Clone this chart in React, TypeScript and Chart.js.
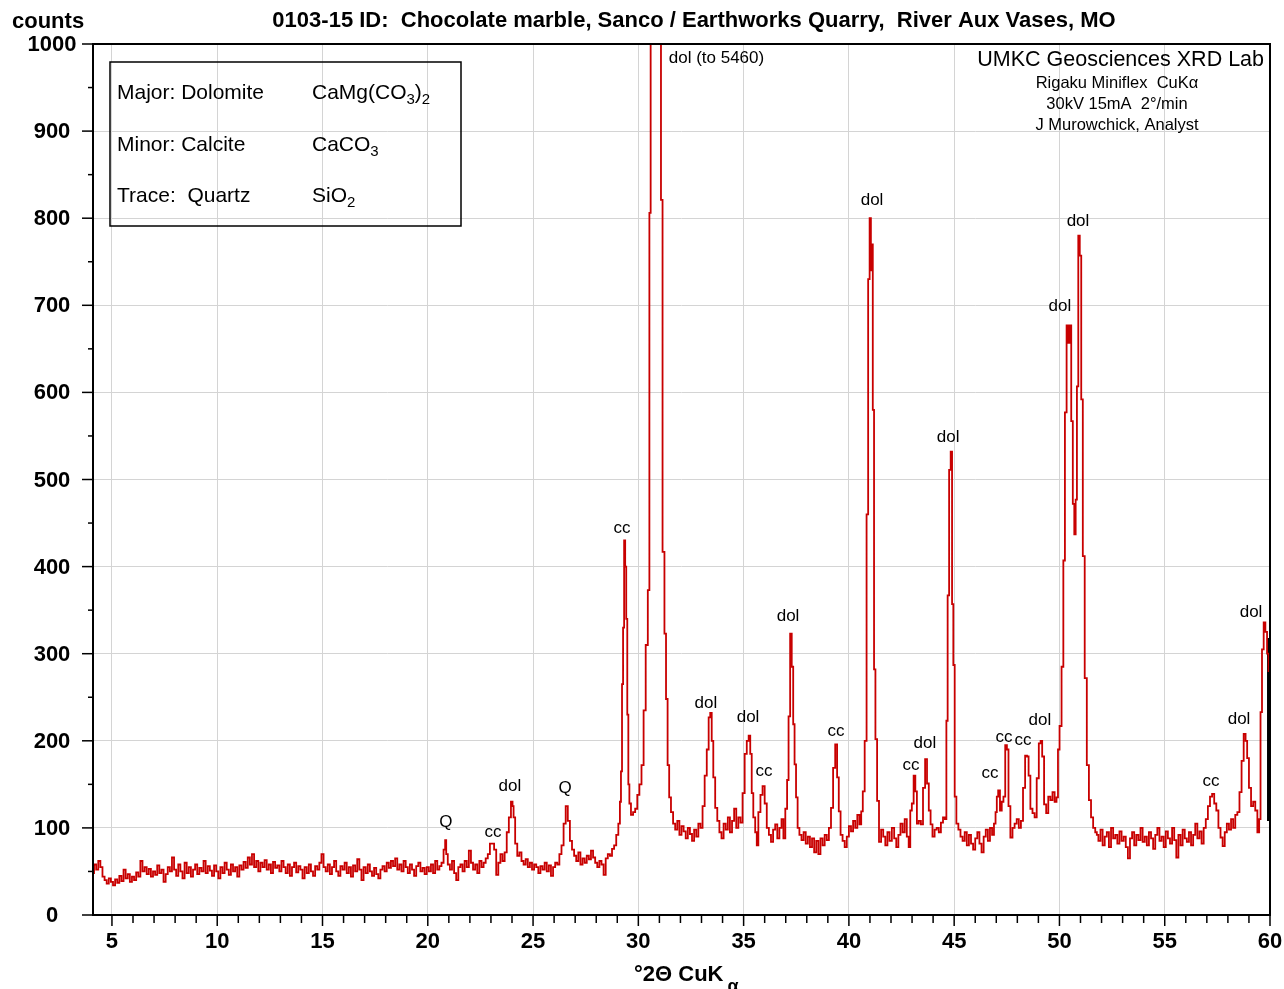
import { useEffect, useRef } from 'react';
import { Chart, registerables } from 'chart.js';

Chart.register(...registerables);

const FONT = '"Liberation Sans", Arial, Helvetica, sans-serif';

const chartTitle = '0103-15 ID:  Chocolate marble, Sanco / Earthworks Quarry,  River Aux Vases, MO';
const yAxisTitle = 'counts';
const xAxisTitle = '°2Θ CuK';
const xAxisTitleSub = 'α';
const labName = 'UMKC Geosciences XRD Lab';
const labNotes = ['Rigaku Miniflex  CuKα', '30kV 15mA  2°/min', 'J Murowchick, Analyst'];

const xMajorTicks = [5, 10, 15, 20, 25, 30, 35, 40, 45, 50, 55, 60];
const yMajorTicks = [0, 100, 200, 300, 400, 500, 600, 700, 800, 900, 1000];

// phase identification box: [role text, formula parts (text, isSubscript)]
const phaseRoles = ['Major: Dolomite', 'Minor: Calcite', 'Trace:  Quartz'];
const phaseFormulas: [string, boolean][][] = [
  [['CaMg(CO', false], ['3', true], [')', false], ['2', true]],
  [['CaCO', false], ['3', true]],
  [['SiO', false], ['2', true]],
];

// peak annotations
const peakLabelText = ['Q', 'cc', 'dol', 'Q', 'cc', 'dol (to 5460)', 'dol', 'dol', 'cc', 'dol', 'cc', 'dol', 'cc', 'dol', 'dol', 'cc', 'cc', 'cc', 'dol', 'dol', 'dol', 'cc', 'dol', 'dol'];
const peakLabelTheta = [20.86, 23.1, 23.9, 26.52, 29.22, 33.71, 33.21, 35.21, 35.97, 37.11, 39.39, 41.1, 42.95, 43.61, 44.71, 46.7, 47.37, 48.27, 49.07, 50.02, 50.88, 57.2, 58.53, 59.1];
const peakLabelCounts = [106, 95, 148, 146, 444, 983, 243, 227, 165, 343, 211, 820, 172, 197, 548, 163, 204, 200, 224, 699, 797, 154, 225, 348];

// scan: [°2θ, counts]
const scanLowAngle: [number, number][] = [
  [4.1, 48], [4.2, 58], [4.3, 52], [4.4, 62], [4.5, 55], [4.6, 44], [4.7, 40], [4.8, 36], [4.9, 42], [5.0, 38],
  [5.1, 34], [5.2, 41], [5.3, 37], [5.4, 45], [5.5, 39], [5.6, 52], [5.7, 42], [5.8, 47], [5.9, 38], [6.0, 44],
  [6.1, 40], [6.2, 49], [6.3, 44], [6.4, 62], [6.5, 50], [6.6, 55], [6.7, 47], [6.8, 53], [6.9, 44], [7.0, 50],
  [7.1, 46], [7.2, 57], [7.3, 48], [7.4, 52], [7.5, 38], [7.6, 47], [7.7, 55], [7.8, 50], [7.9, 66], [8.0, 52],
  [8.1, 45], [8.2, 58], [8.3, 50], [8.4, 42], [8.5, 60], [8.6, 48], [8.7, 55], [8.8, 44], [8.9, 52], [9.0, 58],
  [9.1, 47], [9.2, 54], [9.3, 50], [9.4, 62], [9.5, 48], [9.6, 56], [9.7, 51], [9.8, 45], [9.9, 57], [10.0, 50],
  [10.1, 42], [10.2, 55], [10.3, 48], [10.4, 60], [10.5, 52], [10.6, 46], [10.7, 58], [10.8, 50], [10.9, 55], [11.0, 44],
  [11.1, 57], [11.2, 52], [11.3, 61], [11.4, 54], [11.5, 66], [11.6, 58], [11.7, 70], [11.8, 55], [11.9, 62], [12.0, 50],
  [12.1, 60], [12.2, 55], [12.3, 63], [12.4, 52], [12.5, 58], [12.6, 48], [12.7, 61], [12.8, 54], [12.9, 57], [13.0, 50],
  [13.1, 62], [13.2, 55], [13.3, 48], [13.4, 58], [13.5, 45], [13.6, 55], [13.7, 60], [13.8, 49], [13.9, 56], [14.0, 52],
  [14.1, 42], [14.2, 55], [14.3, 48], [14.4, 58], [14.5, 50], [14.6, 45], [14.7, 56], [14.8, 52], [14.9, 60], [15.0, 70],
  [15.1, 55], [15.2, 50], [15.3, 58], [15.4, 47], [15.5, 55], [15.6, 62], [15.7, 50], [15.8, 45], [15.9, 56], [16.0, 52],
  [16.1, 60], [16.2, 48], [16.3, 55], [16.4, 44], [16.5, 57], [16.6, 50], [16.7, 64], [16.8, 52], [16.9, 40], [17.0, 55],
  [17.1, 48], [17.2, 58], [17.3, 50], [17.4, 45], [17.5, 54], [17.6, 47], [17.7, 42], [17.8, 52], [17.9, 56], [18.0, 50],
  [18.1, 60], [18.2, 54], [18.3, 62], [18.4, 56], [18.5, 65], [18.6, 52], [18.7, 58], [18.8, 50], [18.9, 62], [19.0, 55],
  [19.1, 48], [19.2, 58], [19.3, 52], [19.4, 45], [19.5, 56], [19.6, 60], [19.7, 50], [19.8, 54], [19.9, 47], [20.0, 55],
  [20.1, 50], [20.2, 58], [20.3, 48], [20.4, 62], [20.5, 52], [20.6, 56],
];

const scanQuartzRegion: [number, number][] = [
  [20.7, 60], [20.8, 75], [20.85, 86], [20.9, 70], [21.0, 58], [21.1, 52], [21.2, 62], [21.3, 48], [21.4, 40], [21.5, 55],
  [21.6, 58], [21.7, 50], [21.8, 62], [21.9, 55], [22.0, 74], [22.1, 60], [22.2, 52], [22.3, 58], [22.4, 48], [22.5, 62],
  [22.6, 55], [22.7, 60], [22.8, 65], [22.9, 70], [23.0, 82], [23.1, 82], [23.2, 75], [23.3, 46], [23.4, 60], [23.5, 70],
  [23.6, 62], [23.7, 72], [23.8, 95], [23.9, 112], [24.0, 130], [24.05, 125], [24.1, 112], [24.2, 82], [24.3, 68], [24.4, 72],
  [24.5, 62], [24.6, 58], [24.7, 64], [24.8, 55], [24.9, 60], [25.0, 52], [25.1, 58], [25.2, 55], [25.3, 48], [25.4, 56],
  [25.5, 52], [25.6, 60], [25.7, 50], [25.8, 57], [25.9, 45], [26.0, 55], [26.1, 60], [26.2, 58], [26.3, 70], [26.4, 80],
  [26.5, 105], [26.6, 125], [26.7, 108], [26.8, 85], [26.9, 75], [27.0, 68], [27.1, 62], [27.2, 72], [27.3, 58], [27.4, 65],
  [27.5, 60], [27.6, 68], [27.7, 64], [27.8, 74], [27.9, 66], [28.0, 60], [28.1, 55], [28.2, 62], [28.3, 58], [28.4, 46],
  [28.5, 65], [28.6, 70], [28.7, 68], [28.8, 76], [28.9, 80], [29.0, 92], [29.1, 105],
];

const scanMainPeaks: [number, number][] = [
  [29.15, 130], [29.2, 165], [29.25, 265], [29.3, 330], [29.35, 430], [29.4, 400], [29.45, 340], [29.5, 230], [29.55, 150], [29.6, 128],
  [29.7, 115], [29.8, 118], [29.9, 122], [30.0, 138], [30.1, 150], [30.2, 172], [30.3, 235], [30.4, 310], [30.5, 373], [30.55, 806],
  [30.62, 2800], [30.72, 5460], [30.85, 5000], [30.95, 3200], [31.05, 1400], [31.1, 821], [31.2, 417], [31.28, 323], [31.35, 248], [31.43, 172],
  [31.5, 135], [31.6, 118], [31.7, 105], [31.8, 98], [31.9, 108], [32.0, 92], [32.1, 102], [32.2, 96], [32.3, 88], [32.4, 100],
  [32.5, 93], [32.6, 85], [32.7, 98], [32.8, 90], [32.9, 105], [33.0, 100], [33.1, 125], [33.2, 160], [33.3, 190], [33.38, 227],
  [33.45, 232], [33.52, 200], [33.6, 158], [33.7, 123], [33.8, 108], [33.9, 95], [34.0, 88], [34.1, 105], [34.2, 98], [34.3, 112],
  [34.4, 95], [34.5, 108], [34.6, 122], [34.7, 100], [34.8, 112], [34.9, 106], [35.0, 140], [35.1, 185], [35.2, 200], [35.28, 206],
  [35.35, 185], [35.42, 140], [35.5, 112], [35.6, 95], [35.65, 80], [35.75, 118], [35.85, 138], [35.95, 148], [36.05, 128], [36.15, 100],
  [36.25, 92], [36.35, 84], [36.45, 98], [36.55, 104], [36.65, 88], [36.75, 100], [36.85, 110], [36.93, 88], [37.03, 122], [37.1, 155],
  [37.17, 228], [37.25, 323], [37.32, 285], [37.39, 219], [37.45, 173], [37.53, 135], [37.6, 100], [37.7, 92], [37.8, 86], [37.9, 95],
  [38.0, 82], [38.1, 90], [38.2, 78], [38.3, 88], [38.4, 72], [38.5, 85], [38.6, 70], [38.7, 88], [38.8, 80], [38.9, 92],
  [39.0, 86], [39.1, 100], [39.2, 123], [39.3, 169], [39.4, 196], [39.48, 158], [39.56, 119], [39.65, 92], [39.75, 85], [39.85, 78],
  [39.95, 90], [40.05, 102], [40.15, 96], [40.25, 108], [40.35, 100], [40.45, 115], [40.55, 104], [40.62, 119], [40.7, 142], [40.8, 200],
  [40.88, 460], [40.95, 730], [41.02, 800], [41.07, 740], [41.1, 770], [41.17, 580], [41.22, 282], [41.3, 202], [41.38, 131], [41.48, 84],
  [41.58, 98], [41.68, 90], [41.78, 80], [41.88, 95], [41.98, 85], [42.1, 100], [42.2, 88], [42.3, 78], [42.4, 92], [42.5, 105],
  [42.6, 95], [42.7, 110], [42.8, 90], [42.88, 78], [42.95, 120], [43.03, 128], [43.12, 160], [43.19, 142], [43.27, 105], [43.37, 108],
  [43.47, 104], [43.57, 146], [43.67, 179], [43.75, 151], [43.84, 120], [43.92, 104], [44.02, 90], [44.12, 98], [44.22, 100], [44.32, 95],
  [44.42, 106], [44.52, 112], [44.6, 110], [44.66, 223], [44.72, 367], [44.8, 511], [44.87, 532], [44.93, 357], [44.99, 287], [45.06, 136],
  [45.15, 105], [45.25, 98], [45.35, 90], [45.45, 85], [45.55, 95], [45.65, 80], [45.75, 92], [45.85, 82], [45.95, 75], [46.05, 88],
  [46.15, 95], [46.25, 82], [46.35, 72], [46.45, 90], [46.55, 98], [46.65, 85], [46.75, 100], [46.85, 92], [46.93, 105], [47.0, 118],
  [47.05, 136], [47.13, 143], [47.22, 120], [47.3, 130], [47.38, 136], [47.47, 195], [47.54, 190], [47.62, 125], [47.72, 89], [47.82, 100],
  [47.92, 105], [48.02, 110], [48.12, 100], [48.22, 108], [48.32, 146], [48.42, 183], [48.5, 182], [48.57, 160], [48.67, 122], [48.77, 117],
  [48.87, 112], [48.97, 157], [49.07, 197], [49.14, 200], [49.22, 182], [49.32, 127], [49.42, 117], [49.52, 136], [49.62, 132], [49.72, 141],
  [49.82, 130], [49.9, 135], [49.96, 190], [50.05, 217], [50.15, 285], [50.22, 407], [50.3, 577], [50.38, 677], [50.45, 657], [50.52, 677],
  [50.6, 567], [50.67, 472], [50.74, 437], [50.8, 477], [50.86, 607], [50.93, 780], [51.0, 757], [51.07, 592], [51.15, 412], [51.25, 272],
  [51.35, 172], [51.45, 132], [51.55, 112], [51.65, 100], [51.75, 95],
];

const scanHighAngle: [number, number][] = [
  [51.8, 92], [51.9, 85], [52.0, 98], [52.1, 80], [52.2, 90], [52.3, 95], [52.4, 78], [52.5, 100], [52.6, 88], [52.7, 92],
  [52.8, 82], [52.9, 96], [53.0, 85], [53.1, 90], [53.2, 78], [53.3, 65], [53.4, 88], [53.5, 95], [53.6, 80], [53.7, 92],
  [53.8, 86], [53.9, 100], [54.0, 84], [54.1, 90], [54.2, 80], [54.3, 95], [54.4, 88], [54.5, 76], [54.6, 92], [54.7, 100],
  [54.8, 85], [54.9, 90], [55.0, 78], [55.1, 96], [55.2, 88], [55.3, 82], [55.4, 100], [55.5, 86], [55.6, 66], [55.7, 92],
  [55.8, 80], [55.9, 98], [56.0, 88], [56.1, 84], [56.2, 95], [56.3, 80], [56.4, 92], [56.5, 105], [56.6, 88], [56.7, 96],
  [56.8, 82], [56.9, 100], [57.0, 110], [57.1, 125], [57.2, 136], [57.3, 139], [57.4, 128], [57.5, 120], [57.6, 100], [57.7, 89],
  [57.8, 79], [57.9, 95], [58.0, 105], [58.1, 98], [58.2, 110], [58.3, 100], [58.4, 115], [58.5, 118], [58.6, 141], [58.7, 177],
  [58.8, 208], [58.88, 200], [58.95, 180], [59.05, 146], [59.15, 125], [59.25, 130], [59.35, 120], [59.45, 95], [59.52, 110], [59.58, 233],
  [59.66, 305], [59.74, 336], [59.82, 325], [59.9, 300], [59.96, 280],
];

const scanPoints = [...scanLowAngle, ...scanQuartzRegion, ...scanMainPeaks, ...scanHighAngle];
const twoTheta = scanPoints.map((p) => p[0]);
const counts = scanPoints.map((p) => p[1]);

// short black segment at the end of the scan
const scanEndTheta = [59.93, 59.93];
const scanEndCounts = [318, 108];

function drawRich(ctx: CanvasRenderingContext2D, parts: [string, boolean][], x: number, y: number, size: number) {
  let cx = x;
  for (const [text, sub] of parts) {
    ctx.font = `${sub ? Math.round(size * 0.72) : size}px ${FONT}`;
    ctx.fillText(text, cx, sub ? y + size * 0.32 : y);
    cx += ctx.measureText(text).width;
  }
}

const decorPlugin = {
  id: 'xrdDecor',
  afterDraw(chart: any) {
    const { ctx, chartArea } = chart;
    const { left, right, top, bottom } = chartArea;
    const xs = chart.scales.x;
    const ys = chart.scales.y;
    ctx.save();
    ctx.fillStyle = '#000';
    ctx.strokeStyle = '#000';

    // frame
    ctx.lineWidth = 2;
    ctx.beginPath();
    ctx.moveTo(left, top);
    ctx.lineTo(right, top);
    ctx.lineTo(right, bottom);
    ctx.lineTo(left, bottom);
    ctx.closePath();
    ctx.stroke();

    // x ticks
    ctx.lineWidth = 1.5;
    for (let v = Math.ceil(xs.min); v <= xs.max; v += 1) {
      const px = xs.getPixelForValue(v);
      const major = xMajorTicks.includes(v);
      ctx.beginPath();
      ctx.moveTo(px, bottom);
      ctx.lineTo(px, bottom + (major ? 11 : 8));
      ctx.stroke();
    }
    // y ticks
    for (let v = 0; v <= ys.max; v += 50) {
      const py = ys.getPixelForValue(v);
      const major = yMajorTicks.includes(v);
      ctx.beginPath();
      ctx.moveTo(left, py);
      ctx.lineTo(left - (major ? 11 : 5), py);
      ctx.stroke();
    }

    // tick labels
    ctx.font = `bold 22px ${FONT}`;
    ctx.textAlign = 'center';
    ctx.textBaseline = 'middle';
    for (const v of xMajorTicks) ctx.fillText(String(v), xs.getPixelForValue(v), bottom + 27);
    for (const v of yMajorTicks) ctx.fillText(String(v), 52, ys.getPixelForValue(v) + 1);

    // titles
    ctx.fillText(chartTitle, 694, 21);
    ctx.textAlign = 'left';
    ctx.fillText(yAxisTitle, 12, 22);
    ctx.fillText(xAxisTitle, 634, 975);
    const xtw = ctx.measureText(xAxisTitle).width;
    ctx.font = `bold 18px ${FONT}`;
    ctx.fillText(xAxisTitleSub, 634 + xtw + 4, 987);

    // phase box
    ctx.lineWidth = 1.5;
    ctx.strokeRect(110, 62, 351, 164);
    ctx.textAlign = 'left';
    const rowY = [93, 145, 196];
    phaseRoles.forEach((role, i) => {
      ctx.font = `21px ${FONT}`;
      ctx.fillText(role, 117, rowY[i]);
      drawRich(ctx, phaseFormulas[i], 312, rowY[i], 21);
    });

    // lab notes
    ctx.font = `21.5px ${FONT}`;
    ctx.textAlign = 'right';
    ctx.fillText(labName, 1264, 60);
    ctx.textAlign = 'center';
    ctx.font = `16.5px ${FONT}`;
    labNotes.forEach((t, i) => ctx.fillText(t, 1117, 83 + i * 21));

    // peak labels
    ctx.font = `17px ${FONT}`;
    peakLabelText.forEach((t, i) => {
      ctx.fillText(t, xs.getPixelForValue(peakLabelTheta[i]), ys.getPixelForValue(peakLabelCounts[i]));
    });
    ctx.restore();
  },
};

export default function App() {
  const canvasRef = useRef<HTMLCanvasElement | null>(null);

  useEffect(() => {
    if (!canvasRef.current) return;
    const chart = new Chart(canvasRef.current, {
      type: 'line',
      data: {
        datasets: [
          {
            data: twoTheta.map((t, i) => ({ x: t, y: counts[i] })),
            borderColor: 'rgb(200, 0, 0)',
            borderWidth: 1.8,
            pointRadius: 0,
            stepped: 'middle',
            fill: false,
          },
          {
            data: scanEndTheta.map((t, i) => ({ x: t, y: scanEndCounts[i] })),
            borderColor: '#000',
            borderWidth: 3,
            pointRadius: 0,
            fill: false,
          },
        ],
      },
      options: {
        animation: false,
        responsive: false,
        events: [],
        layout: { padding: { left: 0, top: 44, right: 14, bottom: 0 } },
        plugins: { legend: { display: false }, tooltip: { enabled: false }, title: { display: false } },
        scales: {
          x: {
            type: 'linear',
            min: 4.1,
            max: 60,
            ticks: { display: false, stepSize: 5, includeBounds: false },
            grid: { color: '#d4d4d4', lineWidth: 1, drawTicks: false },
            border: { display: false },
            afterFit: (s: any) => { s.height = 74; },
          },
          y: {
            type: 'linear',
            min: 0,
            max: 1000,
            ticks: { display: false, stepSize: 100 },
            grid: { color: '#d4d4d4', lineWidth: 1, drawTicks: false },
            border: { display: false },
            afterFit: (s: any) => { s.width = 93; },
          },
        },
      },
      plugins: [decorPlugin],
    } as any);
    return () => chart.destroy();
  }, []);

  return (
    <div style={{ position: 'absolute', left: 0, top: 0, width: 1284, height: 989, background: '#fff' }}>
      <canvas ref={canvasRef} width={1284} height={989} style={{ display: 'block' }} />
    </div>
  );
}
